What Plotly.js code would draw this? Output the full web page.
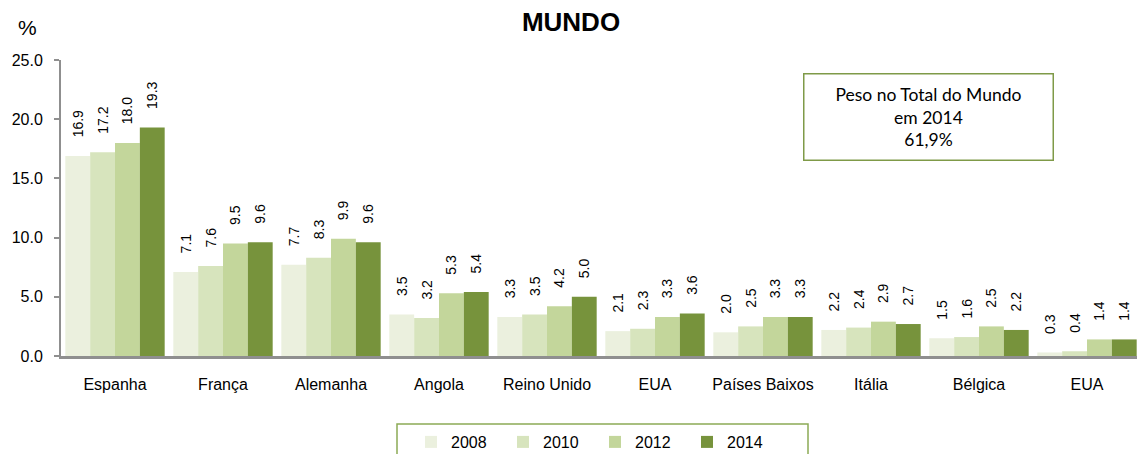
<!DOCTYPE html>
<html>
<head>
<meta charset="utf-8">
<script src="https://cdn.plot.ly/plotly-3.0.1.min.js"></script>
<style>html,body{margin:0;padding:0;background:#fff;}#chart{width:1137px;height:454px;}</style>
</head>
<body>
<div id="chart"></div>
<script>
const categories = ["Espanha", "França", "Alemanha", "Angola", "Reino Unido", "EUA", "Países Baixos", "Itália", "Bélgica", "EUA"];
const years = ["2008", "2010", "2012", "2014"];
const v2008 = [16.9, 7.1, 7.7, 3.5, 3.3, 2.1, 2.0, 2.2, 1.5, 0.3];
const v2010 = [17.2, 7.6, 8.3, 3.2, 3.5, 2.3, 2.5, 2.4, 1.6, 0.4];
const v2012 = [18.0, 9.5, 9.9, 5.3, 4.2, 3.3, 3.3, 2.9, 2.5, 1.4];
const v2014 = [19.3, 9.6, 9.6, 5.4, 5.0, 3.6, 3.3, 2.7, 2.2, 1.4];
const yTicks = [0, 5, 10, 15, 20, 25];
const colors = ["#EBF0DE", "#D7E4BD", "#C3D69B", "#77933C"];

const series = [v2008, v2010, v2012, v2014];
const xPos = categories.map((c, i) => i);

const traces = series.map((vals, k) => ({
  type: "bar",
  name: years[k],
  x: xPos,
  y: vals,
  marker: {color: colors[k], line: {width: 0}},
  text: vals.map(v => v.toFixed(1)),
  texttemplate: "\u00a0\u00a0\u00a0\u00a0%{text}",
  textposition: "outside",
  textangle: -90,
  constraintext: "none",
  cliponaxis: false,
  textfont: {family: "Liberation Sans, Arial, sans-serif", size: 14, color: "#000"},
  hoverinfo: "skip"
}));

const layout = {
  width: 1137,
  height: 454,
  margin: {l: 61, r: 0, t: 60, b: 98, autoexpand: false},
  paper_bgcolor: "#fff",
  plot_bgcolor: "#fff",
  font: {family: "Liberation Sans, Arial, sans-serif", color: "#000"},
  barmode: "group",
  bargap: 0.08,
  bargroupgap: 0,
  showlegend: true,
  title: {
    text: "<b>MUNDO</b>",
    font: {family: "Liberation Sans, Arial, sans-serif", size: 26, color: "#000"},
    x: 571 / 1137, xanchor: "center",
    y: 1 - 22 / 454, yanchor: "middle"
  },
  xaxis: {
    range: [-0.5, -0.5 + 1076 / 108],
    tickmode: "array",
    tickvals: xPos,
    ticktext: categories,
    showgrid: false,
    zeroline: false,
    showline: true,
    linecolor: "#8f8f8f",
    linewidth: 3,
    ticks: "",
    ticklabelstandoff: 12,
    tickfont: {size: 16, color: "#000"},
    fixedrange: true
  },
  yaxis: {
    range: [0, 25],
    tickmode: "array",
    tickvals: yTicks,
    ticktext: yTicks.map(t => t.toFixed(1)),
    showgrid: false,
    zeroline: false,
    showline: true,
    linecolor: "#8f8f8f",
    linewidth: 2,
    ticks: "outside",
    ticklen: 5,
    tickwidth: 2,
    tickcolor: "#8f8f8f",
    ticklabelstandoff: 8,
    tickfont: {size: 16, color: "#000"},
    fixedrange: true
  },
  legend: {
    orientation: "h",
    x: (411 - 61) / 1076,
    xanchor: "left",
    y: (356 - 425) / 296,
    yanchor: "top",
    bgcolor: "rgba(0,0,0,0)",
    borderwidth: 0,
    font: {size: 16, color: "#000"},
    itemwidth: 30,
    entrywidth: 47,
    traceorder: "normal"
  },
  shapes: [{
    type: "rect", xref: "paper", yref: "paper",
    x0: (397 - 61) / 1076, x1: (808 - 61) / 1076,
    y0: (356 - 424) / 296, y1: (356 - 470) / 296,
    line: {color: "#8CAA55", width: 1.5},
    fillcolor: "rgba(0,0,0,0)",
    layer: "above"
  }],
  annotations: [
    {
      text: "%", xref: "paper", yref: "paper",
      x: (27 - 61) / 1076, y: (356 - 27) / 296,
      xanchor: "center", yanchor: "middle", showarrow: false,
      font: {size: 21, color: "#000"}
    },
    {
      text: "Peso no Total do Mundo<br>em 2014<br>61,9%",
      xref: "paper", yref: "paper",
      x: (928 - 61) / 1076, y: (356 - 116.5) / 296,
      xanchor: "center", yanchor: "middle", showarrow: false,
      width: 244, height: 81, borderpad: 2,
      bordercolor: "#7F9A48", borderwidth: 1.5, bgcolor: "#fff",
      align: "center", valign: "middle",
      font: {family: "Lato, Carlito, Calibri, sans-serif", size: 17.5, color: "#000"}
    }
  ]
};

Plotly.newPlot("chart", traces, layout, {displayModeBar: false, staticPlot: true});
</script>
</body>
</html>
